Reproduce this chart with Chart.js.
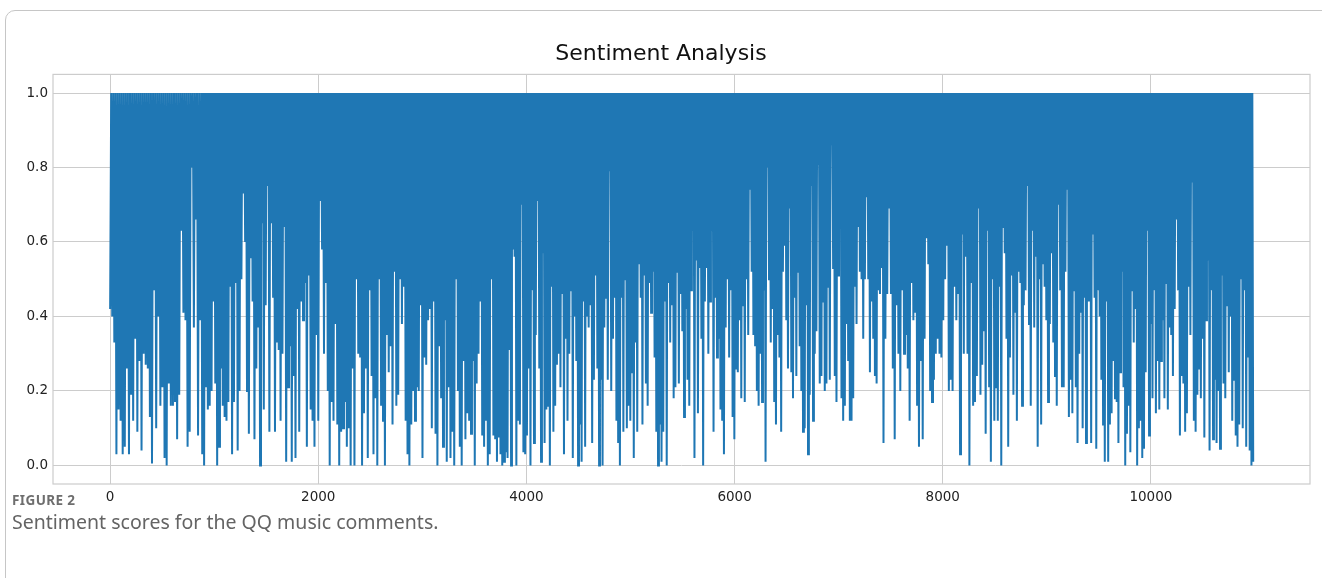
<!DOCTYPE html>
<html>
<head>
<meta charset="utf-8">
<title>Sentiment Analysis</title>
<script src="https://cdn.jsdelivr.net/npm/chart.js@4.4.1/dist/chart.umd.min.js"></script>
<style>
    html, body { margin: 0; padding: 0; background: #ffffff; }
    #wrap { position: relative; width: 1322px; height: 578px; overflow: hidden; }
    #frame {
        position: absolute; left: 5px; top: 10px; width: 1340px; height: 600px;
        border: 1px solid #c6c6c6; border-top-left-radius: 10px; box-sizing: border-box;
    }
    #sentiment-chart { position: absolute; left: 0; top: 0; }
    #fig-label {
        position: absolute; left: 12px; top: 491px;
        font-family: "Noto Sans", "Open Sans", sans-serif; font-size: 13.5px; font-weight: bold;
        color: #6e6e6e; letter-spacing: 0.4px;
    }
    #fig-caption {
        position: absolute; left: 12px; top: 508px;
        font-family: "Noto Sans", "Open Sans", sans-serif; font-size: 19.5px;
        color: #646464;
    }
</style>
</head>
<body>
<div id="wrap">
    <div id="frame"></div>
    <canvas id="sentiment-chart" width="1322" height="578"></canvas>
    <div id="fig-label">FIGURE 2</div>
    <div id="fig-caption">Sentiment scores for the QQ music comments.</div>
</div>
<script>
// Sentiment scores (QQ music comments) - lowest score read per small stretch of comments,
// one row per stretch of the x axis between the bounds below.
const segmentBounds = [0, 885, 1817, 2750, 3683, 4615, 5548, 6481, 7413, 8346, 9279, 10212, 11000];
const topScore = 1.0;
const troughScores = [
    [0.42, 0.40, 0.33, 0.03, 0.15, 0.12, 0.03, 0.05, 0.26, 0.03, 0.19, 0.12, 0.34, 0.09, 0.28, 0.04, 0.30, 0.27, 0.26, 0.13, 0.005, 0.47, 0.10, 0.40, 0.16, 0.21, 0.02, 0.0, 0.22, 0.16, 0.16, 0.17, 0.07, 0.19, 0.63, 0.41, 0.39, 0.05, 0.09, 0.80, 0.37, 0.66, 0.08, 0.39],
    [0.03, 0.0, 0.21, 0.15, 0.16, 0.20, 0.44, 0.22, 0.0, 0.05, 0.26, 0.16, 0.13, 0.12, 0.17, 0.48, 0.03, 0.17, 0.49, 0.04, 0.20, 0.50, 0.73, 0.60, 0.20, 0.085, 0.556, 0.44, 0.07, 0.26, 0.37, 0.0, 0.65, 0.15, 0.43, 0.75, 0.09, 0.65, 0.45, 0.09, 0.33, 0.31, 0.12, 0.30, 0.64, 0.01, 0.21, 0.32, 0.01, 0.24, 0.02, 0.42],
    [0.09, 0.44, 0.39, 0.49, 0.05, 0.51, 0.15, 0.12, 0.05, 0.35, 0.12, 0.71, 0.58, 0.30, 0.49, 0.20, 0.0, 0.17, 0.12, 0.38, 0.11, 0.0, 0.09, 0.10, 0.17, 0.05, 0.10, 0.0, 0.26, 0.0, 0.50, 0.30, 0.29, 0.0, 0.14, 0.26, 0.02, 0.47, 0.24, 0.03, 0.18, 0.0, 0.50, 0.16, 0.12, 0.0, 0.35, 0.25, 0.32, 0.11, 0.52],
    [0.16, 0.19, 0.50, 0.38, 0.48, 0.12, 0.03, 0.0, 0.11, 0.20, 0.12, 0.21, 0.20, 0.43, 0.02, 0.29, 0.27, 0.39, 0.42, 0.10, 0.44, 0.085, 0.0, 0.32, 0.18, 0.05, 0.39, 0.01, 0.21, 0.02, 0.09, 0.0, 0.50, 0.20, 0.05, 0.0, 0.28, 0.07, 0.14, 0.12, 0.085, 0.28, 0.0, 0.22, 0.30, 0.44, 0.08, 0.05, 0.12, 0.0, 0.03, 0.50],
    [0.08, 0.07, 0.01, 0.075, 0.03, 0.0, 0.01, 0.035, 0.02, 0.31, 0.0, 0.58, 0.56, 0.0, 0.12, 0.11, 0.70, 0.035, 0.03, 0.08, 0.26, 0.0, 0.47, 0.06, 0.35, 0.71, 0.26, 0.01, 0.57, 0.06, 0.15, 0.16, 0.0, 0.48, 0.09, 0.16, 0.27, 0.30, 0.21, 0.46, 0.03, 0.34, 0.12, 0.30, 0.47, 0.02, 0.40, 0.28, 0.0, 0.11, 0.01, 0.44, 0.05, 0.40, 0.37],
    [0.43, 0.06, 0.23, 0.51, 0.26, 0.0, 0.23, 0.0, 0.37, 0.45, 0.23, 0.79, 0.20, 0.34, 0.45, 0.12, 0.06, 0.0, 0.45, 0.09, 0.50, 0.10, 0.16, 0.12, 0.25, 0.02, 0.33, 0.09, 0.54, 0.45, 0.11, 0.51, 0.22, 0.16, 0.49, 0.41, 0.52, 0.29, 0.09, 0.0, 0.11, 0.01, 0.09, 0.44, 0.0, 0.49, 0.33, 0.43, 0.18, 0.21, 0.52, 0.22, 0.46, 0.36, 0.13, 0.42],
    [0.23, 0.16, 0.47, 0.63, 0.02, 0.55, 0.14, 0.53, 0.34, 0.0, 0.44, 0.53, 0.30, 0.44, 0.63, 0.09, 0.45, 0.29, 0.34, 0.15, 0.12, 0.03, 0.37, 0.50, 0.29, 0.47, 0.13, 0.07, 0.26, 0.25, 0.39, 0.18, 0.43, 0.17, 0.50, 0.35, 0.74, 0.52, 0.35, 0.32, 0.20, 0.16, 0.30, 0.17, 0.47, 0.01, 0.80, 0.50, 0.33, 0.42, 0.17, 0.11, 0.35, 0.29, 0.09, 0.52],
    [0.59, 0.39, 0.26, 0.69, 0.25, 0.18, 0.45, 0.24, 0.52, 0.32, 0.20, 0.09, 0.10, 0.43, 0.03, 0.19, 0.75, 0.12, 0.30, 0.36, 0.81, 0.22, 0.24, 0.44, 0.20, 0.22, 0.48, 0.23, 0.86, 0.53, 0.24, 0.17, 0.51, 0.69, 0.18, 0.12, 0.16, 0.38, 0.28, 0.12, 0.12, 0.18, 0.48, 0.38, 0.64, 0.52, 0.50, 0.34, 0.50, 0.72, 0.50, 0.25, 0.44, 0.34, 0.24, 0.22, 0.47, 0.46],
    [0.53, 0.06, 0.34, 0.46, 0.69, 0.46, 0.26, 0.07, 0.43, 0.30, 0.20, 0.47, 0.30, 0.35, 0.26, 0.12, 0.49, 0.39, 0.41, 0.16, 0.05, 0.28, 0.07, 0.34, 0.61, 0.54, 0.20, 0.17, 0.23, 0.30, 0.34, 0.30, 0.29, 0.39, 0.50, 0.59, 0.20, 0.23, 0.20, 0.48, 0.39, 0.46, 0.03, 0.62, 0.30, 0.56, 0.30, 0.0, 0.49, 0.16, 0.17, 0.24],
    [0.69, 0.19, 0.27, 0.36, 0.085, 0.63, 0.21, 0.01, 0.50, 0.12, 0.21, 0.12, 0.48, 0.0, 0.64, 0.57, 0.34, 0.05, 0.29, 0.51, 0.19, 0.41, 0.12, 0.52, 0.49, 0.16, 0.43, 0.47, 0.75, 0.38, 0.16, 0.63, 0.37, 0.56, 0.05, 0.50, 0.11, 0.54, 0.48, 0.39, 0.17, 0.38, 0.57, 0.33, 0.24, 0.16, 0.70, 0.47, 0.21, 0.21, 0.52, 0.74, 0.13, 0.23, 0.14, 0.47],
    [0.21, 0.06, 0.30, 0.41, 0.10, 0.45, 0.06, 0.44, 0.44, 0.06, 0.62, 0.45, 0.045, 0.47, 0.40, 0.23, 0.11, 0.01, 0.44, 0.01, 0.11, 0.14, 0.28, 0.18, 0.17, 0.06, 0.25, 0.52, 0.21, 0.0, 0.085, 0.16, 0.035, 0.47, 0.33, 0.42, 0.0, 0.10, 0.12, 0.02, 0.045, 0.25, 0.63, 0.08, 0.38, 0.18, 0.47, 0.14, 0.28, 0.15, 0.28, 0.39, 0.18, 0.49, 0.15, 0.37, 0.35],
    [0.24, 0.42, 0.66, 0.47, 0.08, 0.24, 0.22, 0.09, 0.14, 0.48, 0.35, 0.76, 0.12, 0.09, 0.19, 0.26, 0.18, 0.34, 0.075, 0.39, 0.55, 0.04, 0.47, 0.07, 0.23, 0.06, 0.20, 0.045, 0.51, 0.22, 0.18, 0.43, 0.25, 0.40, 0.12, 0.23, 0.08, 0.05, 0.11, 0.50, 0.10, 0.47, 0.05, 0.29, 0.04, 0.0, 0.01]
];
const xTicks = [0, 2000, 4000, 6000, 8000, 10000];
const yTicks = [0.0, 0.2, 0.4, 0.6, 0.8, 1.0];

(function () {
    "use strict";

    // build the zig-zag series: each low sample, then back up to the top score
    const points = [];
    troughScores.forEach(function (lows, s) {
        const from = segmentBounds[s];
        const step = (segmentBounds[s + 1] - from) / lows.length;
        lows.forEach(function (v, i) {
            points.push({ x: from + i * step, y: v });
            if (s < troughScores.length - 1 || i < lows.length - 1) {
                points.push({ x: from + (i + 0.5) * step, y: topScore });
            }
        });
    });

    const gridColor = "#cccccc";
    const tickFont = { family: "DejaVu Sans", size: 13.5 };

    // axes box on all four sides (matplotlib style spines)
    const frameBox = {
        id: "frameBox",
        afterDatasetsDraw: function (chart) {
            const a = chart.chartArea;
            const ctx = chart.ctx;
            ctx.save();
            ctx.strokeStyle = gridColor;
            ctx.lineWidth = 1.2;
            ctx.strokeRect(a.left, a.top, a.right - a.left, a.bottom - a.top);
            ctx.restore();
        }
    };

    new Chart(document.getElementById("sentiment-chart"), {
        type: "line",
        data: {
            datasets: [{
                label: "Sentiment",
                data: points,
                borderColor: "#1f77b4",
                borderWidth: 2,
                pointRadius: 0,
                tension: 0,
                fill: false
            }]
        },
        options: {
            responsive: false,
            animation: false,
            events: [],
            layout: { padding: { left: 12, right: 12, top: 0, bottom: 0 } },
            plugins: {
                legend: { display: false },
                tooltip: { enabled: false },
                title: {
                    display: true,
                    text: "Sentiment Analysis",
                    color: "#111111",
                    font: { family: "DejaVu Sans", size: 22, weight: "normal", lineHeight: 1.2 },
                    padding: { top: 41, bottom: 7 }
                }
            },
            scales: {
                x: {
                    type: "linear",
                    min: -549,
                    max: 11529,
                    afterBuildTicks: function (scale) {
                        scale.ticks = xTicks.map(v => ({ value: v }));
                    },
                    afterFit: function (scale) { scale.height = 94; },
                    grid: { color: gridColor, lineWidth: 1, drawTicks: false },
                    border: { display: false },
                    ticks: {
                        color: "#222222",
                        font: tickFont,
                        padding: 5,
                        maxRotation: 0,
                        autoSkip: false,
                        callback: v => String(v)
                    }
                },
                y: {
                    type: "linear",
                    min: -0.05,
                    max: 1.05,
                    afterBuildTicks: function (scale) {
                        scale.ticks = yTicks.map(v => ({ value: v }));
                    },
                    afterFit: function (scale) { scale.width = 41; },
                    grid: { color: gridColor, lineWidth: 1, drawTicks: false },
                    border: { display: false },
                    ticks: {
                        color: "#222222",
                        font: tickFont,
                        padding: 5,
                        callback: v => v.toFixed(1)
                    }
                }
            }
        },
        plugins: [frameBox]
    });
})();
</script>
</body>
</html>
